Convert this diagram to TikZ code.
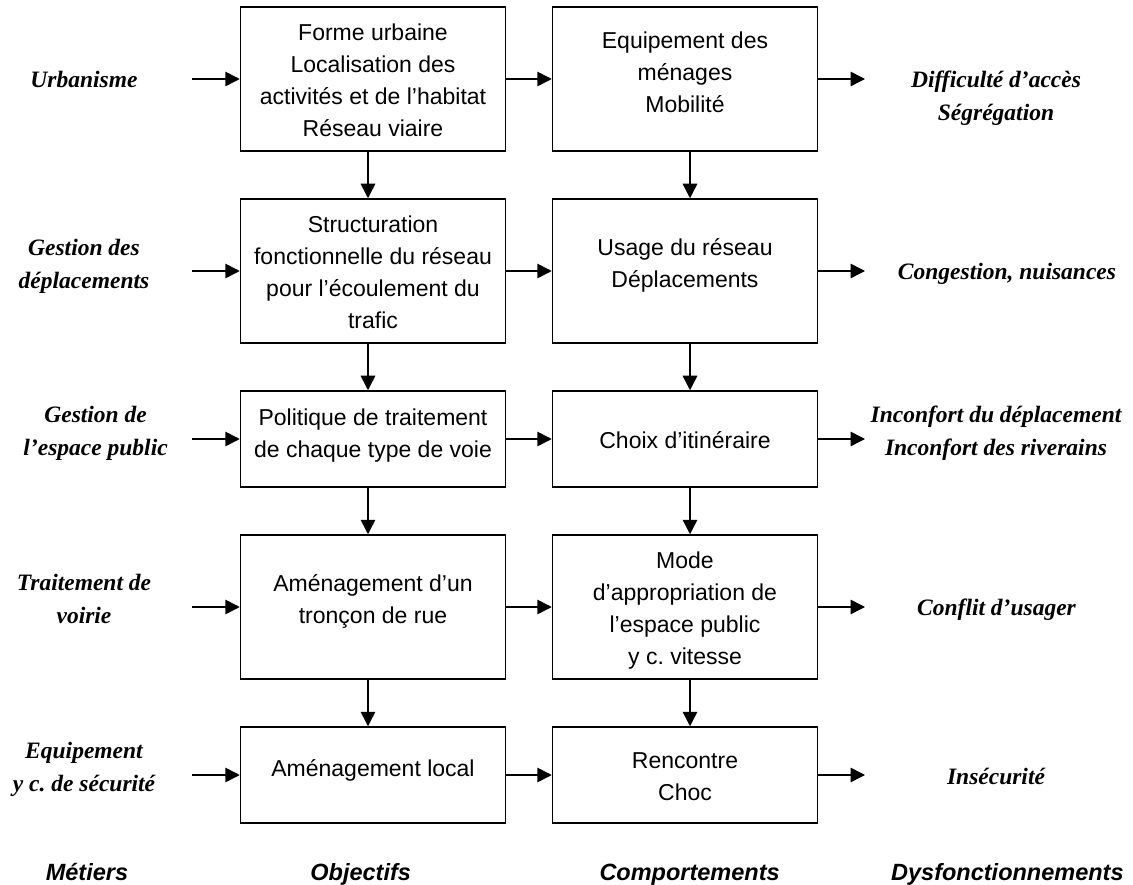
\documentclass[tikz,border=0pt]{standalone}
\usepackage{fontspec}
\setmainfont{Liberation Sans}
\newfontfamily\timesf{Liberation Serif}
\usetikzlibrary{arrows.meta}
\frenchspacing
\newcommand\txdown[1]{\rule{0pt}{\dimexpr22.4pt+#1pt*2\relax}}
\newcommand\txup[1]{\rule[-\dimexpr9.6pt+#1pt*2\relax]{0pt}{\dimexpr9.6pt+#1pt*2\relax}}
\begin{document}
\begin{tikzpicture}[x=1pt,y=-1pt,
  box/.style={draw, line width=1.5pt, minimum width=265pt, inner sep=0pt, align=center,
              font=\fontsize{23}{32}\selectfont},
  tall/.style={minimum height=144pt},
  short/.style={minimum height=96pt},
  side/.style={inner sep=0pt, align=center, font=\timesf\bfseries\itshape\fontsize{23.5}{33}\selectfont},
  head/.style={inner sep=0pt, font=\bfseries\itshape\fontsize{23.5}{32}\selectfont},
  arr/.style={line width=1.5pt, -{Triangle[length=14.5pt,width=14.5pt]}}]
\useasboundingbox (0,0) rectangle (1133,885);
% boxes
\node[box,tall]  (l1) at (373,79)  {\txdown{3}\strut Forme urbaine\\\strut Localisation des\\\strut activités et de l’habitat\\\strut Réseau viaire};
\node[box,tall]  (r1) at (685,79)  {\strut Equipement des\\\strut ménages\\\strut Mobilité\txup{5}};
\node[box,tall]  (l2) at (373,271) {\txdown{3}\strut Structuration\\\strut fonctionnelle du réseau\\\strut pour l’écoulement du\\\strut trafic};
\node[box,tall]  (r2) at (685,271) {\strut Usage du réseau\\\strut Déplacements\txup{6}};
\node[box,short] (l3) at (373,439) {\strut Politique de traitement\\\strut de chaque type de voie\txup{4}};
\node[box,short] (r3) at (685,439) {\txdown{3}\strut Choix d’itinéraire};
\node[box,tall]  (l4) at (373,607) {\strut Aménagement d’un\\\strut tronçon de rue\txup{6}};
\node[box,tall]  (r4) at (685,607) {\txdown{3}\strut Mode\\\strut d’appropriation de\\\strut l’espace public\\\strut y c. vitesse};
\node[box,short] (l5) at (373,775) {\strut Aménagement local\txup{5}};
\node[box,short] (r5) at (685,775) {\txdown{3}\strut Rencontre\\\strut Choc};
% left labels
\node[side] (m1) at (84,81)    {\strut Urbanisme};
\node[side] (m2) at (84,265)   {\strut Gestion des\\\strut déplacements};
\node[side] (m3) at (95.6,432) {\strut Gestion de\\\strut l’espace public};
\node[side] (m4) at (84,600)   {\strut Traitement de\\\strut voirie};
\node[side] (m5) at (84,768.5) {\strut Equipement\\\strut y c. de sécurité};
% right labels
\node[side] (d1) at (996,97)    {\strut Difficulté d’accès\\\strut Ségrégation};
\node[side] (d2) at (1007,273)  {\strut Congestion, nuisances};
\node[side] (d3) at (996,432)   {\strut Inconfort du déplacement\\\strut Inconfort des riverains};
\node[side] (d4) at (996.5,609) {\strut Conflit d’usager};
\node[side] (d5) at (996,778)   {\strut Insécurité};
% column headings
\node[head] (h1) at (87,874)     {\strut Métiers};
\node[head] (h2) at (360.7,874)  {\strut Objectifs};
\node[head] (h3) at (689.6,874)  {\strut Comportements};
\node[head] (h4) at (1007.4,874) {\strut Dysfonctionnements};
% arrow tails / heads
\foreach \i/\y in {1/79,2/271,3/439,4/607,5/775}{
  \coordinate (i\i) at (192.4,\y);
  \coordinate (o\i) at (865,\y);
}
\foreach \i in {1,...,5}{
  \draw[arr] (i\i) -- (l\i);
  \draw[arr] (l\i) -- (r\i);
  \draw[arr] (r\i) -- (o\i);
}
\foreach \a/\b in {1/2,2/3,3/4,4/5}{
  \draw[arr] ([xshift=-5pt]l\a.south) -- ([xshift=-5pt]l\b.north);
  \draw[arr] ([xshift=5pt]r\a.south) -- ([xshift=5pt]r\b.north);
}
\end{tikzpicture}
\end{document}
